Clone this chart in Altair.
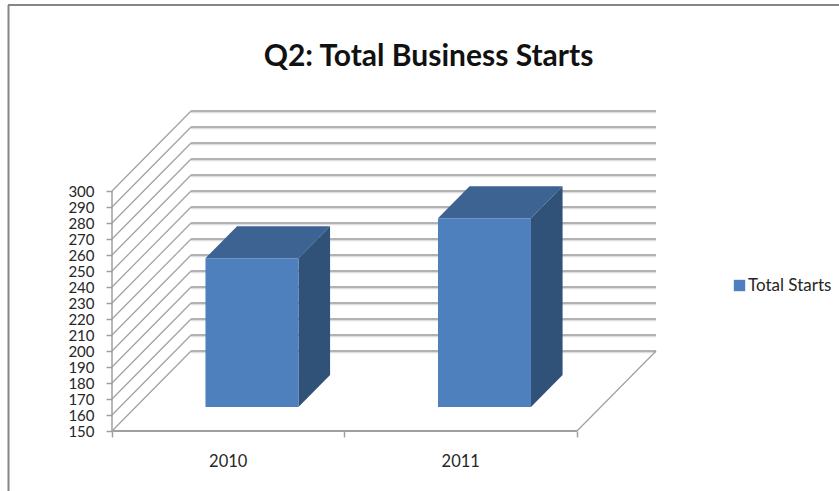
import altair as alt
import pandas as pd

# Chart values
categories = ["2010", "2011"]
total_starts = [243, 268]
value_ticks = list(range(150, 301, 10))
category_ticks = [0, 1, 2]

TITLE = "Q2: Total Business Starts"
SERIES = "Total Starts"
FONT = "Lato"

# Oblique projection: depth 0 is the front of the floor, depth 1 the back wall.
SHIFT_X = 0.34    # category units per full depth
SHIFT_Y = 50      # value units per full depth
BAR_NEAR, BAR_FAR = 0.3, 0.7
BAR_LEFT, BAR_RIGHT = 0.3, 0.7
BASE = 150

x_scale = alt.Scale(domain=[-112 / 232.5, 727 / 232.5], nice=False, zero=False)
y_scale = alt.Scale(domain=[112.5, 419.375], nice=False, zero=False)


def px(u, depth=0.0):
    return u + depth * SHIFT_X


def py(v, depth=0.0):
    return v + depth * SHIFT_Y


GRID = "#9a9a9a"
EDGE = "#a0a0a0"
FRONT = "#4e80bd"
TOP = "#3c6392"
SIDE = "#305279"
INK = "#262626"

# Back wall gridlines with their soft lower edge, and the slanted wall lines
grid = pd.DataFrame({
    "x": [px(0, 1)] * len(value_ticks),
    "x2": [px(2, 1)] * len(value_ticks),
    "y": [py(v, 1) for v in value_ticks],
})
wall = pd.DataFrame({
    "x": [px(0)] * len(value_ticks),
    "x2": [px(0, 1)] * len(value_ticks),
    "y": value_ticks,
    "y2": [py(v, 1) for v in value_ticks],
})
floor_edge = pd.DataFrame({"x": [px(2)], "x2": [px(2, 1)], "y": [BASE], "y2": [py(BASE, 1)]})
front_axis = pd.DataFrame({"x": [px(0)], "x2": [px(2)], "y": [BASE]})
value_axis = pd.DataFrame({"x": [px(0)], "y": [BASE], "y2": [value_ticks[-1]]})

# Real axes, moved in to the front corner of the floor; every layer shares them
x_axis = alt.Axis(values=category_ticks, labels=False, domain=False, grid=False, title=None,
                  tickColor=EDGE, tickSize=6, tickWidth=1.5, offset=-60)
y_axis = alt.Axis(values=value_ticks, domain=False, grid=False, title=None,
                  tickColor=EDGE, tickSize=6, tickWidth=1.5, offset=-112, labelPadding=12,
                  labelFont=FONT, labelFontSize=15, labelColor=INK, labelOverlap=False,
                  labelFlush=False)
x_enc = alt.X("x:Q", scale=x_scale, axis=x_axis)
y_enc = alt.Y("y:Q", scale=y_scale, axis=y_axis)

grid_shadow = alt.Chart(grid).mark_rule(color="#dedede", strokeWidth=1.5, yOffset=1.6).encode(
    x=x_enc, x2="x2:Q", y=y_enc)
grid_lines = alt.Chart(grid).mark_rule(color=GRID, strokeWidth=1.5).encode(
    x=x_enc, x2="x2:Q", y=y_enc)
wall_lines = alt.Chart(wall).mark_rule(color=EDGE, strokeWidth=1.2).encode(
    x=x_enc, x2="x2:Q", y=y_enc, y2="y2:Q")
floor_line = alt.Chart(floor_edge).mark_rule(color=EDGE, strokeWidth=1.2).encode(
    x=x_enc, x2="x2:Q", y=y_enc, y2="y2:Q")
front_line = alt.Chart(front_axis).mark_rule(color=EDGE, strokeWidth=2).encode(
    x=x_enc, x2="x2:Q", y=y_enc)
value_line = alt.Chart(value_axis).mark_rule(color=EDGE, strokeWidth=1.5).encode(
    x=x_enc, y=y_enc, y2="y2:Q")

# Three visible faces of each column
front_rows, top_rows, side_rows = [], [], []
for i, (cat, val) in enumerate(zip(categories, total_starts)):
    left, right = i + BAR_LEFT, i + BAR_RIGHT
    front_rows.append({
        "series": SERIES,
        "x": px(left, BAR_NEAR), "x2": px(right, BAR_NEAR),
        "y": py(BASE, BAR_NEAR), "y2": py(val, BAR_NEAR),
    })
    for d in (BAR_NEAR, BAR_FAR):
        top_rows.append({"bar": cat, "x": px(left, d), "x2": px(right, d), "y": py(val, d)})
        side_rows.append({"bar": cat, "x": px(right, d), "y": py(BASE, d), "y2": py(val, d)})

top_faces = alt.Chart(pd.DataFrame(top_rows)).mark_area(color=TOP, orient="horizontal").encode(
    x=x_enc, x2="x2:Q", y=y_enc, detail="bar:N")
side_faces = alt.Chart(pd.DataFrame(side_rows)).mark_area(color=SIDE, orient="vertical").encode(
    x=x_enc, y=y_enc, y2="y2:Q", detail="bar:N")
front_faces = alt.Chart(pd.DataFrame(front_rows)).mark_rect().encode(
    x=x_enc, x2="x2:Q", y=y_enc, y2="y2:Q",
    color=alt.Color("series:N", scale=alt.Scale(domain=[SERIES], range=[FRONT]), legend=alt.Legend(
        title=None, orient="none", legendX=731, legendY=277, symbolType="square", symbolSize=130,
        symbolStrokeWidth=0, labelFont=FONT, labelFontSize=17, labelColor=INK, labelOffset=0)),
)

category_labels = alt.Chart(pd.DataFrame({
    "x": [i + 0.5 for i in range(len(categories))], "label": categories,
})).mark_text(font=FONT, fontSize=16.5, color=INK, baseline="middle").encode(
    x=x_enc, y=alt.value(462), text="label:N")

# Frame along the top and left of the chart area
frame_left = alt.Chart(pd.DataFrame({"a": [0]})).mark_rule(color="#868686", strokeWidth=2).encode(
    x=alt.value(8.5), y=alt.value(5), y2=alt.value(491))
frame_top = alt.Chart(pd.DataFrame({"a": [0]})).mark_rule(color="#868686", strokeWidth=2).encode(
    y=alt.value(5), x=alt.value(8), x2=alt.value(839))

chart = alt.layer(
    frame_left, frame_top,
    grid_shadow, grid_lines, wall_lines, floor_line, value_line, front_line,
    top_faces, side_faces, front_faces, category_labels,
).properties(
    width=839, height=491, padding=0, autosize=alt.AutoSizeParams(type="none"),
    title=alt.TitleParams(TITLE, font=FONT, fontSize=30, fontWeight="bold", color="#111111",
                          anchor="middle", frame="group", dx=9, dy=76),
    background="white",
).configure_view(stroke=None)

chart.save("out.html", embed_options={"renderer": "svg", "actions": False})
